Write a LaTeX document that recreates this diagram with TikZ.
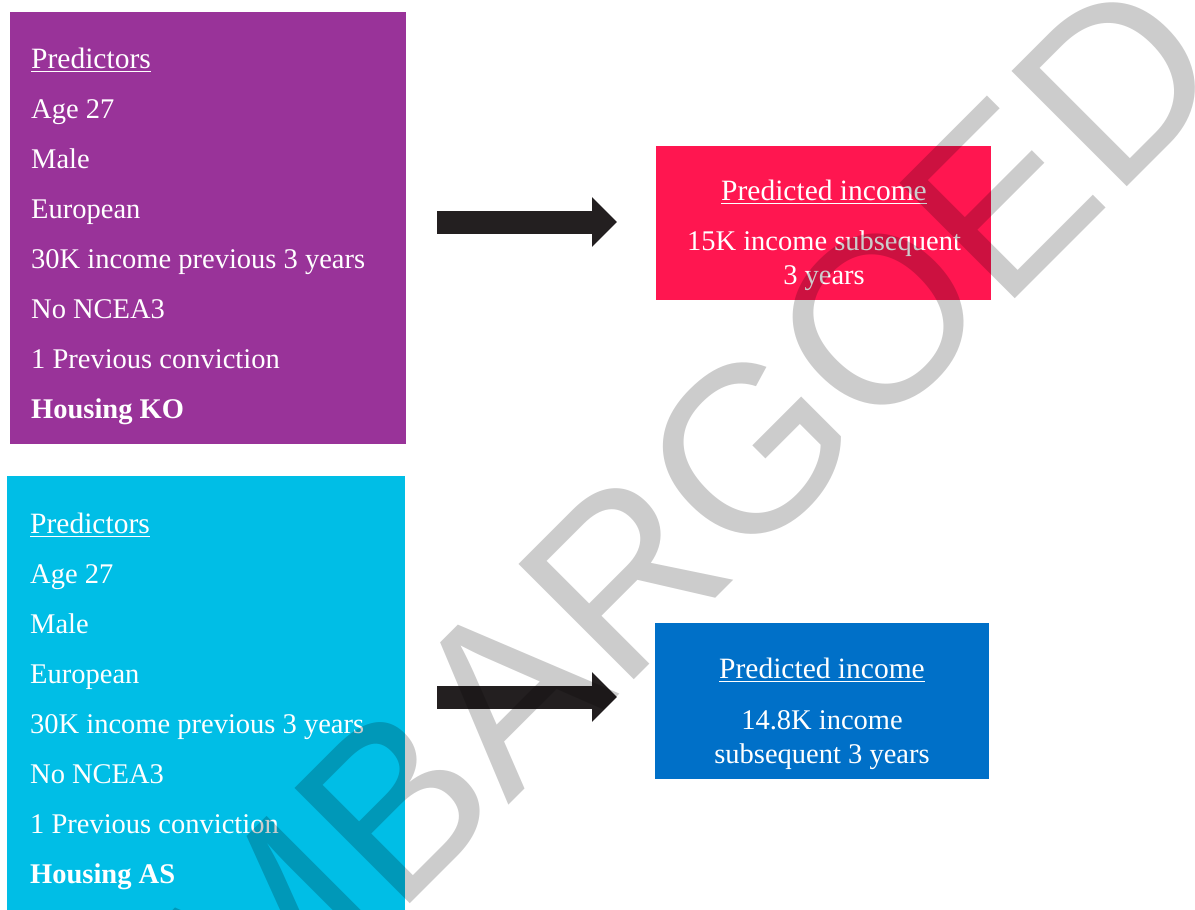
\documentclass[tikz,border=0pt]{standalone}
\usepackage{fontspec}
\setmainfont{Liberation Serif}
\newfontfamily\wmfont{Liberation Sans}
\usetikzlibrary{arrows.meta,calc}
\definecolor{cpurple}{RGB}{153,51,153}
\definecolor{ccyan}{RGB}{0,190,230}
\definecolor{cred}{RGB}{255,22,80}
\definecolor{cblue}{RGB}{0,112,200}
\definecolor{carrow}{RGB}{35,31,32}
\begin{document}
\begin{tikzpicture}[x=1pt,y=-1pt,
  box/.style={draw=none, anchor=north west, inner sep=0, outer sep=0},
  txt/.style={text=white, inner sep=0, anchor=base west, font=\fontsize{28.5}{34}\selectfont},
  hdr/.style={text=white, inner sep=0, font=\fontsize{29.5}{34}\selectfont},
  ctr/.style={text=white, inner sep=0, anchor=base, font=\fontsize{28.5}{34}\selectfont},
  uline/.style={white, line width=1.8pt},
  bigarrow/.style={carrow, line width=23pt, -{Triangle[length=25pt,width=48pt]}},
  wm/.style={rotate=45, anchor=base west, inner sep=0, text=black, text opacity=0.2,
             font=\wmfont\fontsize{237}{237}\selectfont}]
\useasboundingbox (0,0) rectangle (1195,910);
\clip (0,0) rectangle (1195,910);

% boxes
\node[box, fill=cpurple, minimum width=396pt, minimum height=432pt] (pbox) at (10,12) {};
\node[box, fill=ccyan, minimum width=398pt, minimum height=434pt] (cbox) at (7,476) {};
\node[box, fill=cred, minimum width=335pt, minimum height=154pt] (rbox) at (656,146) {};
\node[box, fill=cblue, minimum width=334pt, minimum height=156pt] (bbox) at (655,623) {};

% purple box text
\node[hdr, anchor=base west] (ph) at (31,68) {Predictors};
\draw[uline] ([yshift=-3.5pt]ph.base west) -- ([yshift=-3.5pt]ph.base east);
\foreach \t [count=\i] in {Age 27, Male, European, 30K income previous 3 years, No NCEA3, 1 Previous conviction}
  \node[txt] (pl\i) at (31, 68+50*\i) {\t};
\node[txt] (pl7) at (31,418) {\bfseries Housing KO};

% cyan box text
\node[hdr, anchor=base west] (ch) at (30,533) {Predictors};
\draw[uline] ([yshift=-3.5pt]ch.base west) -- ([yshift=-3.5pt]ch.base east);
\foreach \t [count=\i] in {Age 27, Male, European, 30K income previous 3 years, No NCEA3, 1 Previous conviction}
  \node[txt] (cl\i) at (30, 533+50*\i) {\t};
\node[txt] (cl7) at (30,883) {\bfseries Housing AS};

% red box text
\node[hdr, anchor=base] (rh) at (824,200) {Predicted income};
\draw[uline] ([yshift=-3.5pt]rh.base west) -- ([yshift=-3.5pt]rh.base east);
\node[ctr] (r1) at (824,250) {15K income subsequent};
\node[ctr] (r2) at (824,284) {3 years};

% blue box text
\node[hdr, anchor=base] (bh) at (822,678) {Predicted income};
\draw[uline] ([yshift=-3.5pt]bh.base west) -- ([yshift=-3.5pt]bh.base east);
\node[ctr] (b1) at (822,729) {14.8K income};
\node[ctr] (b2) at (822,763) {subsequent 3 years};

% arrows
\coordinate (a1s) at ($(pbox.east |- rbox.west)+(31,-1)$);
\coordinate (a1e) at ($(rbox.west)+(-39,-1)$);
\draw[bigarrow] (a1s) -- (a1e);
\coordinate (a2s) at ($(cbox.east |- bbox.west)+(32,-4)$);
\coordinate (a2e) at ($(bbox.west)+(-38,-4)$);
\draw[bigarrow] (a2s) -- (a2e);

% watermark
\node[wm] (wmark) at (145,1169) {EMBARGOED};
\end{tikzpicture}
\end{document}
